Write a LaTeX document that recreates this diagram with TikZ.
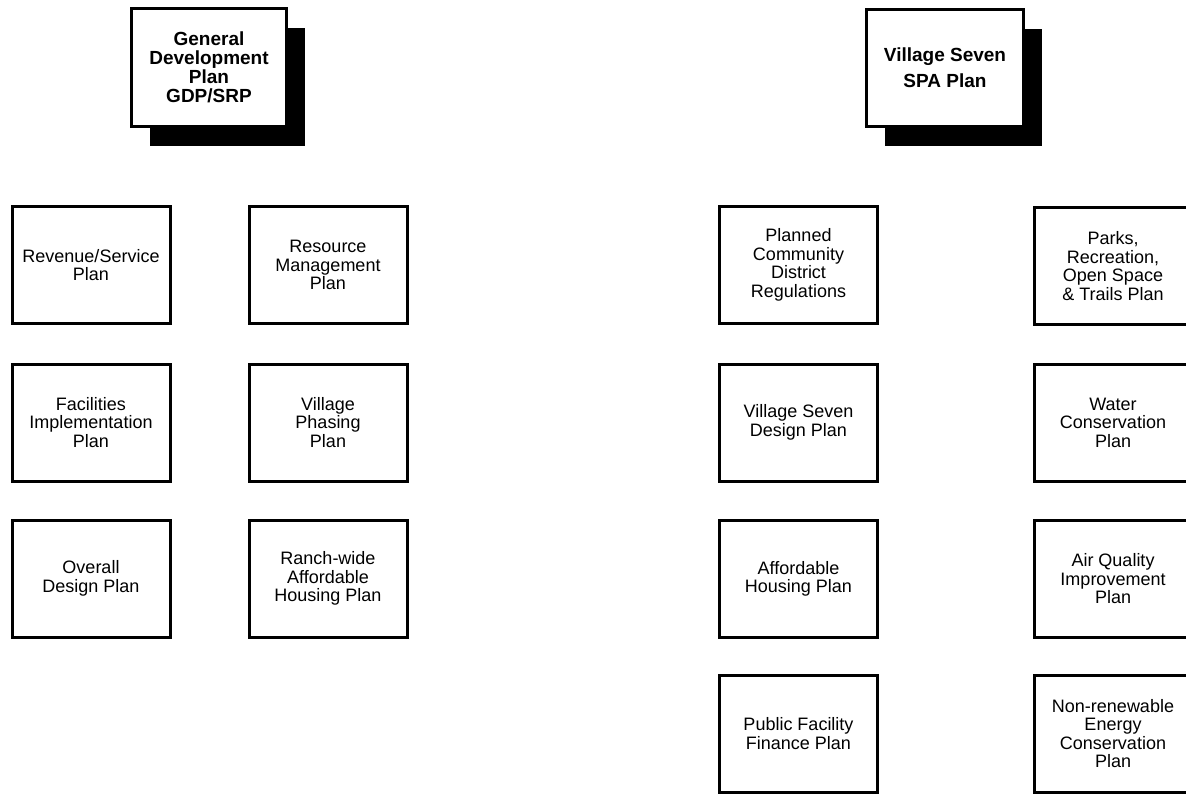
\documentclass[tikz,border=0pt]{standalone}
\usepackage{fontspec}
\setmainfont{Liberation Sans}
\usetikzlibrary{shadows}
\begin{document}
\begin{tikzpicture}[x=1pt,y=-1pt,
  plan/.style={draw=black, line width=3pt, fill=white, align=center, inner sep=0pt,
    font=\fontsize{18}{18.5}\selectfont},
  lbox/.style={plan, minimum width=158pt, minimum height=117pt},
  head/.style={plan, font=\bfseries\fontsize{19}{19}\selectfont,
    drop shadow={shadow xshift=18pt, shadow yshift=-20pt, fill=black, opacity=1}}]
\useasboundingbox (0,0) rectangle (1186,794);
\clip (0,0) rectangle (1186,794);
% header boxes
\node[head, minimum width=155pt, minimum height=118pt] (gdp) at (209,67.5)
  {General\\Development\\Plan\\GDP/SRP};
\node[head, minimum width=157pt, minimum height=117pt,
  font=\bfseries\fontsize{19}{26}\selectfont] (spa) at (945,68)
  {Village Seven\\SPA Plan};
% left group
\node[lbox] (rev) at (91,265) {Revenue/Service\\Plan};
\node[lbox] (res) at (328,265) {Resource\\Management\\Plan};
\node[lbox] (fac) at (91,422.5) {Facilities\\Implementation\\Plan};
\node[lbox] (pha) at (328,422.5) {Village\\Phasing\\Plan};
\node[lbox] (ovr) at (91,578.5) {Overall\\Design Plan};
\node[lbox] (rnh) at (328,578.5) {Ranch-wide\\Affordable\\Housing Plan};
% right group
\node[lbox] (pcd) at (798.5,265) {Planned\\Community\\District\\Regulations};
\node[lbox] (prk) at (1113,266) {Parks,\\Recreation,\\Open Space\\\& Trails Plan};
\node[lbox] (vsd) at (798.5,422.5) {Village Seven\\Design Plan};
\node[lbox] (wat) at (1113,422.5) {Water\\Conservation\\Plan};
\node[lbox] (afh) at (798.5,579) {Affordable\\Housing Plan};
\node[lbox] (air) at (1113,579) {Air Quality\\Improvement\\Plan};
\node[lbox] (pff) at (798.5,733.5) {Public Facility\\Finance Plan};
\node[lbox] (nre) at (1113,733.5) {Non-renewable\\Energy\\Conservation\\Plan};
\end{tikzpicture}
\end{document}
